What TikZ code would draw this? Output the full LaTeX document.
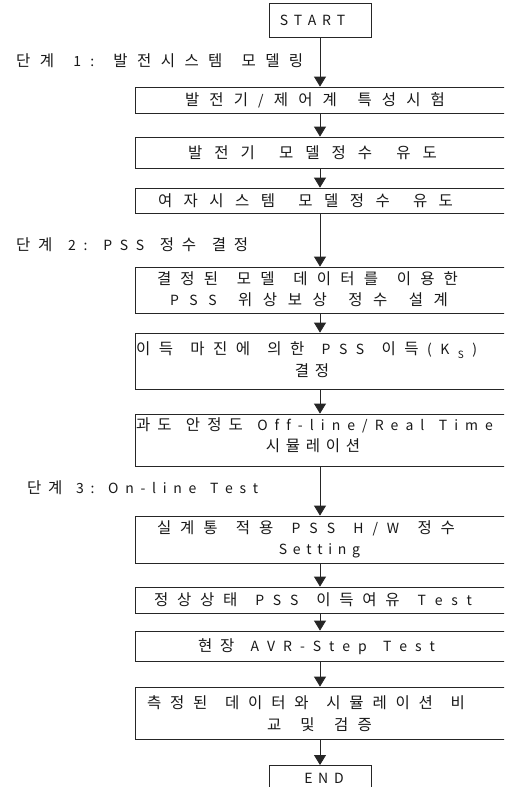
\documentclass[tikz,border=0pt]{standalone}
\usepackage{fontspec}
\setmainfont{Noto Sans CJK KR}
\usetikzlibrary{arrows.meta}

% spacing used between the characters of every text line
\newdimen\trk  \trk=5.7pt
\newdimen\wgap \wgap=6pt
\newcommand\hansize{\fontsize{15.5pt}{21.5pt}\selectfont}
\newcommand\latsize{\fontsize{14pt}{21.5pt}\selectfont}

% \pitched[width]{text}: sets the text one character at a time with
% even gaps; with a width, the gaps stretch so the line fills it.
% "_" stands for the subscript S.
\ExplSyntaxOn
\cs_new_protected:Npn \fc_glyph:n #1
  {
    \str_if_eq:nnTF {#1} {~}
      { \hskip \wgap plus 1fil \relax }
      {
        \str_if_eq:nnTF {#1} {_}
          { \raisebox{-0.5ex}{\fontsize{10pt}{10pt}\selectfont S} }
          {
            \int_compare:nNnTF { `#1 } < { 128 }
              { { \latsize #1 } }
              { #1 }
          }
        \hskip \trk plus 1fil \relax
      }
  }
\cs_new_protected:Npn \fc_run:n #1
  { \str_map_inline:nn {#1} { \fc_glyph:n {##1} } \unskip }
\NewDocumentCommand \pitched { o m }
  {
    \IfNoValueTF {#1}
      { \hbox:n { \fc_run:n {#2} } }
      { \hbox_to_wd:nn {#1} { \fc_run:n {#2} } }
  }
\ExplSyntaxOff

\tikzset{
  txt/.style={inner sep=0pt, font=\hansize, text=black!90,
    text height=12pt, text depth=1pt},
  stepbox/.style={draw=black!85, line width=0.8pt, minimum width=370pt,
    inner sep=0pt},
  termbox/.style={draw=black!85, line width=0.8pt, minimum width=102pt,
    inner sep=0pt},
  flow/.style={draw=black!85, line width=0.8pt,
    -{Triangle[length=10pt,width=12pt]}},
  stagelabel/.style={txt, anchor=west},
}

\begin{document}
\begin{tikzpicture}[x=1pt,y=-1pt]
  \useasboundingbox (0,0) rectangle (504,787);
  \clip (0,0) rectangle (504,787);
  \fill[white] (0,0) rectangle (504,787);

  % frames
  \node[termbox, minimum height=34pt] (start) at (320,20) {};
  \node[termbox, minimum height=30pt, anchor=north] (end) at (320,765) {};
  \node[stepbox, minimum height=26pt] (b1)  at (320,100) {};
  \node[stepbox, minimum height=31pt] (b2)  at (320,152.5) {};
  \node[stepbox, minimum height=25pt] (b3)  at (320,200.5) {};
  \node[stepbox, minimum height=46pt] (b4)  at (320,290) {};
  \node[stepbox, minimum height=56pt] (b5)  at (320,361) {};
  \node[stepbox, minimum height=52pt] (b6)  at (320,440) {};
  \node[stepbox, minimum height=47pt] (b7)  at (320,539.5) {};
  \node[stepbox, minimum height=26pt] (b8)  at (320,600) {};
  \node[stepbox, minimum height=30pt] (b9)  at (320,646) {};
  \node[stepbox, minimum height=52pt] (b10) at (320,713) {};

  % stage headings
  \node[stagelabel] (s1) at (16,61)  {\pitched[287pt]{단계 1: 발전시스템 모델링}};
  \node[stagelabel] (s2) at (16,245) {\pitched[232pt]{단계 2: PSS 정수 결정}};
  \node[stagelabel] (s3) at (27,488) {\pitched[231pt]{단계 3: On-line Test}};

  % texts of the frames
  \node[txt] (tstart) at (312.5,20) {\pitched{START}};
  \node[txt] (tend)   at (324,778)  {\pitched{END}};
  \node[txt] (t1)  at (315,100)   {\pitched[260pt]{발전기/제어계 특성시험}};
  \node[txt] (t2)  at (312.5,153) {\pitched[249pt]{발전기 모델정수 유도}};
  \node[txt] (t3)  at (305.5,200.5) {\pitched[295pt]{여자시스템 모델정수 유도}};
  \node[txt] (t4a) at (307.5,279) {\pitched[301pt]{결정된 모델 데이터를 이용한}};
  \node[txt] (t4b) at (309,300)   {\pitched[278pt]{PSS 위상보상 정수 설계}};
  \node[txt] (t5a) at (306.5,349) {\pitched[341pt]{이득 마진에 의한 PSS 이득(K_)}};
  \node[txt] (t5b) at (312,371)   {\pitched{결정}};
  \node[txt] (t6a) at (314.5,425) {\pitched[357pt]{과도 안정도 Off-line/Real Time}};
  \node[txt] (t6b) at (313,446)   {\pitched{시뮬레이션}};
  \node[txt] (t7a) at (306,528)   {\pitched[298pt]{실계통 적용 PSS H/W 정수}};
  \node[txt] (t7b) at (319.5,549) {\pitched{Setting}};
  \node[txt] (t8)  at (313,600)   {\pitched[318pt]{정상상태 PSS 이득여유 Test}};
  \node[txt] (t9)  at (316.5,646) {\pitched[237pt]{현장 AVR-Step Test}};
  \node[txt] (t10a) at (306,703)  {\pitched[318pt]{측정된 데이터와 시뮬레이션 비}};
  \node[txt] (t10b) at (319.5,725) {\pitched[105pt]{교 및 검증}};

  % connectors
  \draw[flow] (start) -- (b1);
  \draw[flow] (b1) -- (b2);
  \draw[flow] (b2) -- (b3);
  \draw[flow] (b3) -- (b4);
  \draw[flow] (b4) -- (b5);
  \draw[flow] (b5) -- (b6);
  \draw[flow] (b6) -- (b7);
  \draw[flow] (b7) -- (b8);
  \draw[flow] (b8) -- (b9);
  \draw[flow] (b9) -- (b10);
  \draw[flow] (b10) -- (end);
\end{tikzpicture}
\end{document}
